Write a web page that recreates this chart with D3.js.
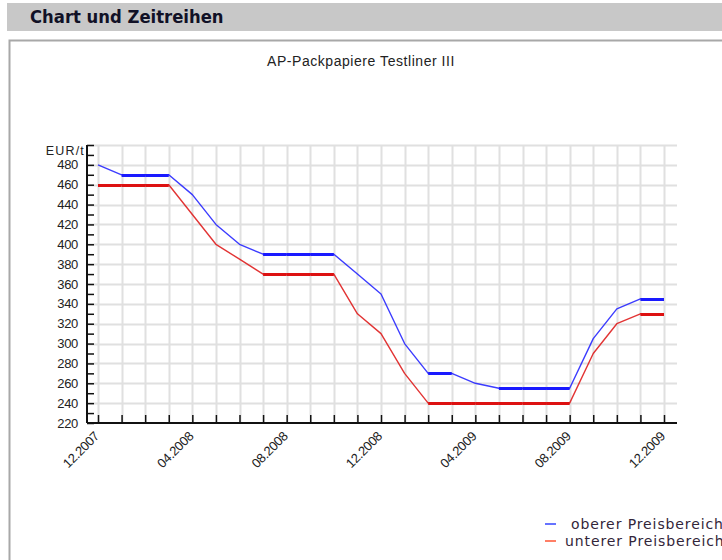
<!DOCTYPE html>
<html>
<head>
<meta charset="utf-8">
<script src="https://cdn.jsdelivr.net/npm/d3@7"></script>
<style>
  body { margin: 0; background: #fff; overflow: hidden; }
  svg { display: block; }
</style>
</head>
<body>
<div id="chart"></div>
<script>
// monthly dates 12.2007 .. 12.2009
var months = ["12.2007","01.2008","02.2008","03.2008","04.2008","05.2008","06.2008","07.2008","08.2008","09.2008","10.2008","11.2008","12.2008",
              "01.2009","02.2009","03.2009","04.2009","05.2009","06.2009","07.2009","08.2009","09.2009","10.2009","11.2009","12.2009"];

// oberer Preisbereich
var upper = [480,470,470,470,450,420,400,390,390,390,390,370,350,300,270,270,260,255,255,255,255,305,335,345,345];
// unterer Preisbereich
var lower = [460,460,460,460,430,400,385,370,370,370,370,330,310,270,240,240,240,240,240,240,240,290,320,330,330];

var yTicks = [220,240,260,280,300,320,340,360,380,400,420,440,460,480];
var xLabels = ["12.2007","04.2008","08.2008","12.2008","04.2009","08.2009","12.2009"];

var seriesNames = ["oberer Preisbereich","unterer Preisbereich"];
var seriesColors = ["#1a1aff","#dd1111"];

var W = 722, H = 560;

var svg = d3.select("#chart").append("svg")
    .attr("width", W)
    .attr("height", H);

// page header
svg.append("rect")
    .attr("x", 7).attr("y", 3)
    .attr("width", W - 7).attr("height", 28)
    .attr("fill", "#c8c8c8");

svg.append("text")
    .attr("x", 30).attr("y", 23)
    .style("font-family", "'DejaVu Sans Condensed','DejaVu Sans',sans-serif")
    .style("font-weight", "bold")
    .style("font-size", "18.3px")
    .attr("fill", "#111126")
    .text("Chart und Zeitreihen");

// box around chart
svg.append("rect")
    .attr("x", 9.5).attr("y", 40.5)
    .attr("width", W).attr("height", H)
    .attr("fill", "none")
    .attr("stroke", "#a8a8a8")
    .attr("stroke-width", 2);

// chart title
svg.append("text")
    .attr("x", 361).attr("y", 66)
    .attr("text-anchor", "middle")
    .style("font-family", "'Liberation Sans',Arial,sans-serif")
    .style("font-size", "14px")
    .style("letter-spacing", "0.55px")
    .attr("fill", "#222")
    .text("AP-Packpapiere Testliner III");

// plot area
var plotL = 87, plotR = 677, plotT = 145, plotB = 423;

var x = d3.scalePoint()
    .domain(months)
    .range([98, 664]);

var y = d3.scaleLinear()
    .domain([220, 500])
    .range([plotB, plotT]);

var g = svg.append("g");

// horizontal grid
g.selectAll(".hgrid")
    .data(d3.range(240, 501, 20))
    .enter().append("line")
    .attr("x1", plotL).attr("x2", plotR)
    .attr("y1", function(d) { return Math.round(y(d)) + 0.5; })
    .attr("y2", function(d) { return Math.round(y(d)) + 0.5; })
    .attr("stroke", "#e0e0e0")
    .attr("stroke-width", 2);

// vertical grid
g.selectAll(".vgrid")
    .data(months)
    .enter().append("line")
    .attr("x1", function(d) { return Math.round(x(d)) + 0.5; })
    .attr("x2", function(d) { return Math.round(x(d)) + 0.5; })
    .attr("y1", plotT).attr("y2", plotB)
    .attr("stroke", "#e0e0e0")
    .attr("stroke-width", 2);

// y axis with minor ticks
var yAxis = d3.axisRight(y)
    .tickValues(d3.range(220, 501, 10))
    .tickSize(7)
    .tickFormat("");
var yg = g.append("g")
    .attr("transform", "translate(" + plotL + ",0)")
    .call(yAxis);
yg.select(".domain").attr("stroke", "#111").attr("stroke-width", 2).attr("d", "M0," + plotT + "V" + plotB);
yg.selectAll(".tick line").attr("stroke", "#111").attr("stroke-width", 1.5);

// y labels
g.selectAll(".ylab")
    .data(yTicks)
    .enter().append("text")
    .attr("x", 78)
    .attr("y", function(d) { return y(d) + 4.5; })
    .attr("text-anchor", "end")
    .style("font-family", "'Liberation Sans',Arial,sans-serif")
    .style("font-size", "13px")
    .style("letter-spacing", "-0.3px")
    .attr("fill", "#222")
    .text(function(d) { return d; });

g.append("text")
    .attr("x", 85).attr("y", plotT + 10)
    .attr("text-anchor", "end")
    .style("font-family", "'Liberation Sans',Arial,sans-serif")
    .style("font-size", "12.5px")
    .style("letter-spacing", "1.2px")
    .attr("fill", "#222")
    .text("EUR/t");

// x axis, ticks pointing up
var xAxis = d3.axisTop(x)
    .tickSize(8)
    .tickFormat("");
var xg = g.append("g")
    .attr("transform", "translate(0," + plotB + ")")
    .call(xAxis);
xg.select(".domain").attr("stroke", "#111").attr("stroke-width", 2).attr("d", "M" + plotL + ",0H" + plotR);
xg.selectAll(".tick line").attr("stroke", "#111").attr("stroke-width", 1.5);

// x labels rotated
g.selectAll(".xlab")
    .data(xLabels)
    .enter().append("text")
    .attr("transform", function(d) { return "translate(" + (x(d) + 2) + "," + (plotB + 14) + ") rotate(-45)"; })
    .attr("text-anchor", "end")
    .style("font-family", "'Liberation Sans',Arial,sans-serif")
    .style("font-size", "13px")
    .style("letter-spacing", "-0.3px")
    .attr("fill", "#222")
    .text(function(d) { return d; });

// lines
var line = d3.line()
    .x(function(d, i) { return x(months[i]); })
    .y(function(d) { return y(d); });

[upper, lower].forEach(function(s, k) {
  g.append("path")
    .datum(s)
    .attr("fill", "none")
    .attr("stroke", seriesColors[k])
    .attr("stroke-opacity", 0.85)
    .attr("stroke-width", 1.4)
    .attr("stroke-linejoin", "round")
    .attr("d", line);
  // flat stretches look heavier in the original
  g.selectAll(null)
    .data(d3.range(s.length - 1).filter(function(i) { return s[i] === s[i + 1]; }))
    .enter().append("line")
    .attr("x1", function(i) { return x(months[i]); })
    .attr("x2", function(i) { return x(months[i + 1]); })
    .attr("y1", function(i) { return Math.round(y(s[i])) + 0.5; })
    .attr("y2", function(i) { return Math.round(y(s[i])) + 0.5; })
    .attr("stroke", seriesColors[k])
    .attr("stroke-width", 3);
});

// legend
var leg = svg.append("g");
seriesNames.forEach(function(n, k) {
  var ly = 524 + k * 17;
  leg.append("line")
    .attr("x1", 545).attr("x2", 556)
    .attr("y1", ly).attr("y2", ly)
    .attr("stroke", k === 0 ? "#3344ff" : "#ff5533")
    .attr("stroke-width", 1.5);
  leg.append("text")
    .attr("x", k === 0 ? 571 : 565)
    .attr("y", ly + 5)
    .style("font-family", "'DejaVu Sans',sans-serif")
    .style("font-size", "14px")
    .style("letter-spacing", "0.9px")
    .attr("fill", "#33263a")
    .text(n);
});
</script>
</body>
</html>
